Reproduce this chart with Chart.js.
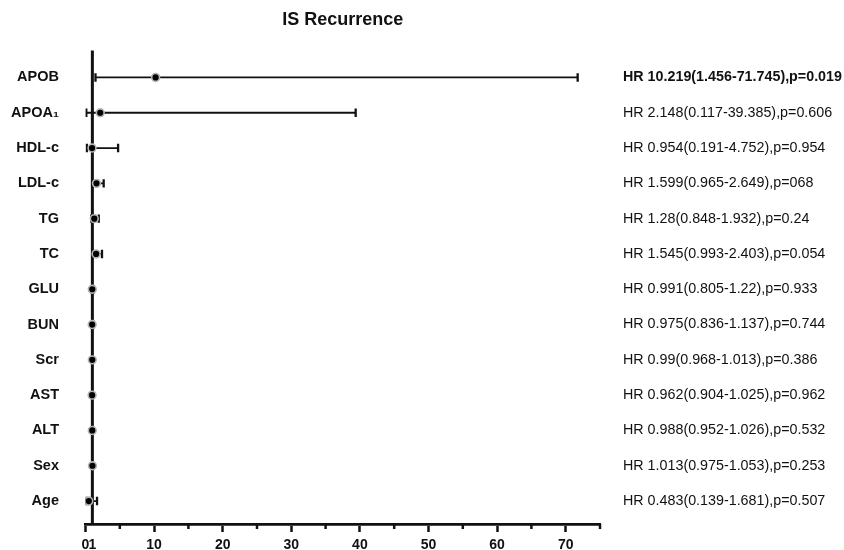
<!DOCTYPE html>
<html>
<head>
<meta charset="utf-8">
<script src="https://cdn.jsdelivr.net/npm/chart.js@4/dist/chart.umd.min.js"></script>
<style>
  html, body { margin: 0; padding: 0; background: #ffffff; }
  #wrap { width: 844px; height: 550px; position: relative; }
</style>
</head>
<body>
<div id="wrap"><canvas id="c"></canvas></div>
<script>
// ---- data ----
const categories = ['APOB', 'APOA\u2081', 'HDL-c', 'LDL-c', 'TG', 'TC', 'GLU', 'BUN', 'Scr', 'AST', 'ALT', 'Sex', 'Age'];
const hazardRatios = [10.219, 2.148, 0.954, 1.599, 1.28, 1.545, 0.991, 0.975, 0.99, 0.962, 0.988, 1.013, 0.483];
const ciLower = [1.456, 0.117, 0.191, 0.965, 0.848, 0.993, 0.805, 0.836, 0.968, 0.904, 0.952, 0.975, 0.139];
const ciUpper = [71.745, 39.385, 4.752, 2.649, 1.932, 2.403, 1.22, 1.137, 1.013, 1.025, 1.026, 1.053, 1.681];
const pValues = ['0.019', '0.606', '0.954', '068', '0.24', '0.054', '0.933', '0.744', '0.386', '0.962', '0.532', '0.253', '0.507'];
const boldRows = [0];
const xTickValues = [0, 1, 10, 20, 30, 40, 50, 60, 70];
const xMinorTicks = [5, 15, 25, 35, 45, 55, 65, 75];
const referenceHR = 1;
const xMin = 0, xMax = 75;
const yMin = -0.76, yMax = 12.65;
const titleText = 'IS Recurrence';

const hrLabels = categories.map((c, i) =>
  'HR ' + hazardRatios[i] + '(' + ciLower[i] + '-' + ciUpper[i] + '),p=' + pValues[i]);

const INK = '#111111';
const FONT = "'Liberation Sans', Arial, Helvetica, sans-serif";

// ---- datasets ----
const datasets = [];
// reference line at HR = 1
datasets.push({
  label: 'ref',
  data: [{ x: referenceHR, y: yMin }, { x: referenceHR, y: yMax }],
  showLine: true, borderColor: INK, borderWidth: 3, pointRadius: 0,
  order: 4, clip: false
});
// CI lines
categories.forEach((c, i) => {
  datasets.push({
    label: 'ci-' + c,
    data: [{ x: ciLower[i], y: i }, { x: ciUpper[i], y: i }],
    showLine: true, borderColor: INK, borderWidth: 1.8, pointRadius: 0,
    order: 3
  });
});
// caps
datasets.push({
  label: 'caps',
  data: categories.flatMap((c, i) => [{ x: ciLower[i], y: i }, { x: ciUpper[i], y: i }]),
  pointStyle: 'line', rotation: 90, pointRadius: 4.2,
  borderColor: INK, borderWidth: 2.3, backgroundColor: INK,
  order: 2
});
// HR points
datasets.push({
  label: 'HR',
  data: categories.map((c, i) => ({ x: hazardRatios[i], y: i })),
  pointStyle: 'circle', pointRadius: 3.9,
  backgroundColor: '#000000', borderColor: '#b5b5b5', borderWidth: 1.6,
  order: 1
});

const minorTickPlugin = {
  id: 'minorTicks',
  afterDraw(chart) {
    const xs = chart.scales.x;
    const ctx = chart.ctx;
    ctx.save();
    ctx.strokeStyle = INK;
    ctx.lineWidth = 2.5;
    const y0 = xs.top;
    xMinorTicks.forEach(v => {
      const px = xs.getPixelForValue(v);
      ctx.beginPath();
      ctx.moveTo(px, y0);
      ctx.lineTo(px, y0 + 5);
      ctx.stroke();
    });
    ctx.restore();
  }
};

const catTicks = (scale) => { scale.ticks = categories.map((c, i) => ({ value: i })); };
const fitY = (w) => (scale) => { scale.width = w; scale.paddingTop = 0; scale.paddingBottom = 0; };

new Chart(document.getElementById('c'), {
  type: 'scatter',
  data: { datasets },
  plugins: [minorTickPlugin],
  options: {
    responsive: true,
    maintainAspectRatio: false,
    animation: false,
    layout: { padding: 0 },
    plugins: {
      legend: { display: false },
      tooltip: { enabled: false },
      title: {
        display: true, text: titleText, fullSize: false,
        color: INK, font: { family: FONT, size: 18, weight: 'bold' },
        padding: { top: 9, bottom: 20 }
      }
    },
    scales: {
      x: {
        type: 'linear', position: 'bottom', min: xMin, max: xMax,
        afterBuildTicks: (scale) => { scale.ticks = xTickValues.map(v => ({ value: v })); },
        afterFit: (scale) => { scale.height = 26; },
        grid: {
          display: true, drawOnChartArea: false, drawTicks: true, tickLength: 8,
          tickWidth: 2.5,
          tickColor: (ctx) => (ctx.tick && ctx.tick.value === referenceHR) ? 'rgba(0,0,0,0)' : INK
        },
        border: { display: true, color: INK, width: 2.8 },
        ticks: {
          autoSkip: false, maxRotation: 0, padding: 5, color: INK,
          font: { family: FONT, size: 14, weight: 'bold' },
          callback: (v) => String(v)
        }
      },
      y: {
        type: 'linear', position: 'left', min: yMin, max: yMax, reverse: true,
        afterBuildTicks: catTicks,
        afterFit: fitY(85.5),
        grid: { display: false, drawTicks: false },
        border: { display: false },
        ticks: {
          autoSkip: false, padding: 26.5, color: INK,
          font: { family: FONT, size: 14.5, weight: 'bold' },
          callback: (v) => categories[v]
        }
      },
      y2: {
        type: 'linear', position: 'right', min: yMin, max: yMax, reverse: true,
        afterBuildTicks: catTicks,
        afterFit: fitY(244),
        grid: { display: false, drawTicks: false },
        border: { display: false },
        ticks: {
          autoSkip: false, padding: 23, color: INK,
          font: (ctx) => ({ family: FONT, size: 14.3,
            weight: (ctx.tick && boldRows.includes(ctx.tick.value)) ? 'bold' : 'normal' }),
          callback: (v) => hrLabels[v]
        }
      }
    }
  }
});
</script>
</body>
</html>
